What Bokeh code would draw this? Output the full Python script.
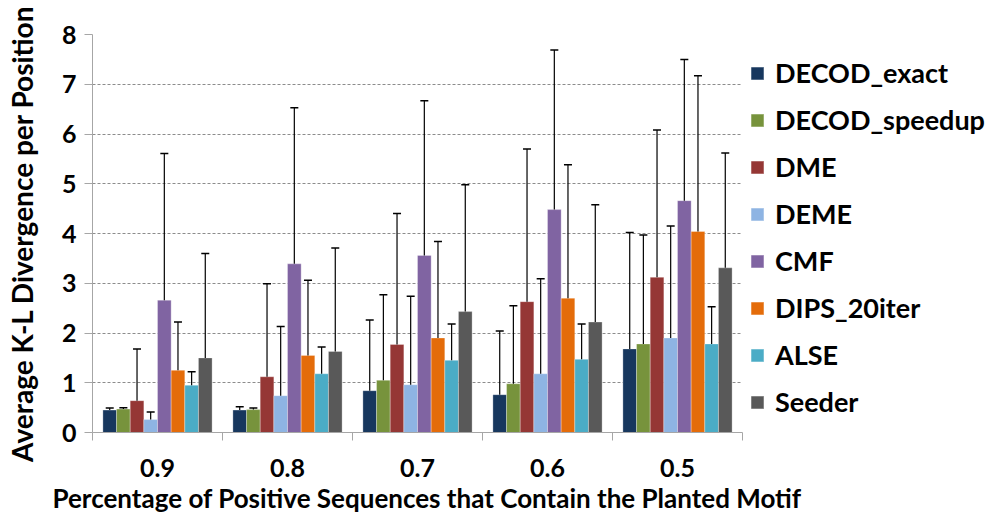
from bokeh.plotting import figure
from bokeh.models import (ColumnDataSource, Range1d, FixedTicker, Legend, LegendItem, Title)
from bokeh.transform import dodge
from bokeh.embed import file_html
from bokeh.resources import INLINE

categories = ["0.9", "0.8", "0.7", "0.6", "0.5"]
methods = ["DECOD_exact", "DECOD_speedup", "DME", "DEME", "CMF", "DIPS_20iter", "ALSE", "Seeder"]
colors = ["#17375E", "#77933C", "#953735", "#8EB4E3", "#8064A2", "#E46C0A", "#4BACC6", "#595959"]

decod_exact = [0.45, 0.45, 0.84, 0.76, 1.68]
decod_exact_sd = [0.04, 0.07, 1.42, 1.28, 2.34]
decod_speedup = [0.47, 0.46, 1.05, 0.98, 1.78]
decod_speedup_sd = [0.03, 0.03, 1.72, 1.57, 2.19]
dme = [0.64, 1.12, 1.77, 2.63, 3.12]
dme_sd = [1.04, 1.87, 2.63, 3.07, 2.96]
deme = [0.26, 0.74, 0.96, 1.18, 1.90]
deme_sd = [0.15, 1.39, 1.78, 1.91, 2.25]
cmf = [2.66, 3.39, 3.56, 4.48, 4.66]
cmf_sd = [2.95, 3.14, 3.11, 3.21, 2.84]
dips_20iter = [1.25, 1.55, 1.90, 2.70, 4.04]
dips_20iter_sd = [0.97, 1.51, 1.94, 2.68, 3.13]
alse = [0.95, 1.18, 1.45, 1.47, 1.78]
alse_sd = [0.27, 0.54, 0.73, 0.71, 0.75]
seeder = [1.50, 1.63, 2.43, 2.22, 3.31]
seeder_sd = [2.10, 2.08, 2.55, 2.36, 2.31]

y_ticks = [0, 1, 2, 3, 4, 5, 6, 7, 8]
x_title = "Percentage of Positive Sequences that Contain the Planted Motif"
y_title = "Average K-L Divergence per Position"

series = [decod_exact, decod_speedup, dme, deme, cmf, dips_20iter, alse, seeder]
series_sd = [decod_exact_sd, decod_speedup_sd, dme_sd, deme_sd, cmf_sd, dips_20iter_sd, alse_sd, seeder_sd]

FONT = "Lato"
BAR_W = 0.105

n_cat = len(categories)
centers = [i + 0.5 for i in range(n_cat)]
bounds = list(range(n_cat + 1))

# frame spans the whole width; the category area covers the left 650 px of it,
# the remainder holds the legend
FIG_W, FIG_H = 995, 520
LEFT, TOP, BOTTOM = 92, 34, 88
CAT_PX = 130.0
x_end = (FIG_W - LEFT) / CAT_PX

p = figure(x_range=Range1d(0, x_end), y_range=Range1d(0, 8),
           width=FIG_W, height=FIG_H, output_backend="svg", toolbar_location=None,
           min_border_left=LEFT, min_border_top=TOP, min_border_bottom=BOTTOM, min_border_right=0)
p.outline_line_color = None
p.xgrid.visible = False
yg = p.ygrid[0]
yg.grid_line_color = "#8C8C8C"
yg.grid_line_dash = "3 2"
yg.grid_line_width = 1
if "cross_bounds" in yg.properties():
    yg.cross_bounds = (0, n_cat)

# y axis
ya = p.yaxis[0]
ya.ticker = FixedTicker(ticks=y_ticks)
ya.axis_line_color = "#A6A6A6"
ya.major_tick_line_color = "#A6A6A6"
ya.major_tick_out = 8
ya.major_tick_in = 0
ya.minor_tick_line_color = None
ya.major_label_text_font = FONT
ya.major_label_text_font_style = "bold"
ya.major_label_text_font_size = "25px"
ya.major_label_text_color = "black"
ya.major_label_standoff = 8
ya.axis_label = y_title
ya.axis_label_text_font = FONT
ya.axis_label_text_font_style = "bold"
ya.axis_label_text_font_size = "28px"
ya.axis_label_text_color = "black"
ya.axis_label_standoff = 20

# x axis: category labels at centers, ticks at category boundaries
xa = p.xaxis[0]
xa.bounds = (0, n_cat)
xa.ticker = FixedTicker(ticks=centers, minor_ticks=bounds)
xa.major_label_overrides = {c: lab for c, lab in zip(centers, categories)}
xa.axis_line_color = "#A6A6A6"
xa.major_tick_line_color = None
xa.minor_tick_line_color = "#A6A6A6"
xa.minor_tick_out = 8
xa.minor_tick_in = 0
xa.major_label_text_font = FONT
xa.major_label_text_font_style = "bold"
xa.major_label_text_font_size = "25px"
xa.major_label_text_color = "black"
xa.major_label_standoff = 18

# x axis title, aligned with the category area rather than the whole frame
xt = Title(text=x_title, align="left", offset=-40, standoff=0,
           text_font=FONT, text_font_style="bold", text_font_size="26px",
           text_color="black")
p.add_layout(xt, "below")

items = []
n = len(methods)
for j, (name, col, vals, sds) in enumerate(zip(methods, colors, series, series_sd)):
    off = (j - (n - 1) / 2) * BAR_W
    src = ColumnDataSource(dict(xc=centers, cat=categories, v=vals,
                                top=[a + b for a, b in zip(vals, sds)]))
    r = p.vbar(x=dodge("xc", off), top="v", bottom=0, width=BAR_W,
               source=src, fill_color=col, line_color="white", line_width=0.6, line_alpha=0.5)
    p.segment(x0=dodge("xc", off), y0="v", x1=dodge("xc", off), y1="top",
              source=src, line_color="black", line_width=1.2)
    p.scatter(x=dodge("xc", off), y="top", marker="dash", size=8,
              source=src, line_color="black", line_width=1.5)
    items.append(LegendItem(label=name, renderers=[r]))

legend = Legend(items=items, location=(657, 14), orientation="vertical")
legend.border_line_color = None
legend.background_fill_alpha = 0
legend.label_text_font = FONT
legend.label_text_font_style = "bold"
legend.label_text_font_size = "27px"
legend.label_text_color = "black"
legend.glyph_width = 16
legend.glyph_height = 16
legend.label_height = 20
legend.spacing = 14
legend.padding = 0
legend.margin = 0
legend.label_standoff = 10
p.add_layout(legend, "center")

open("out.html", "w").write(file_html(p, INLINE))
